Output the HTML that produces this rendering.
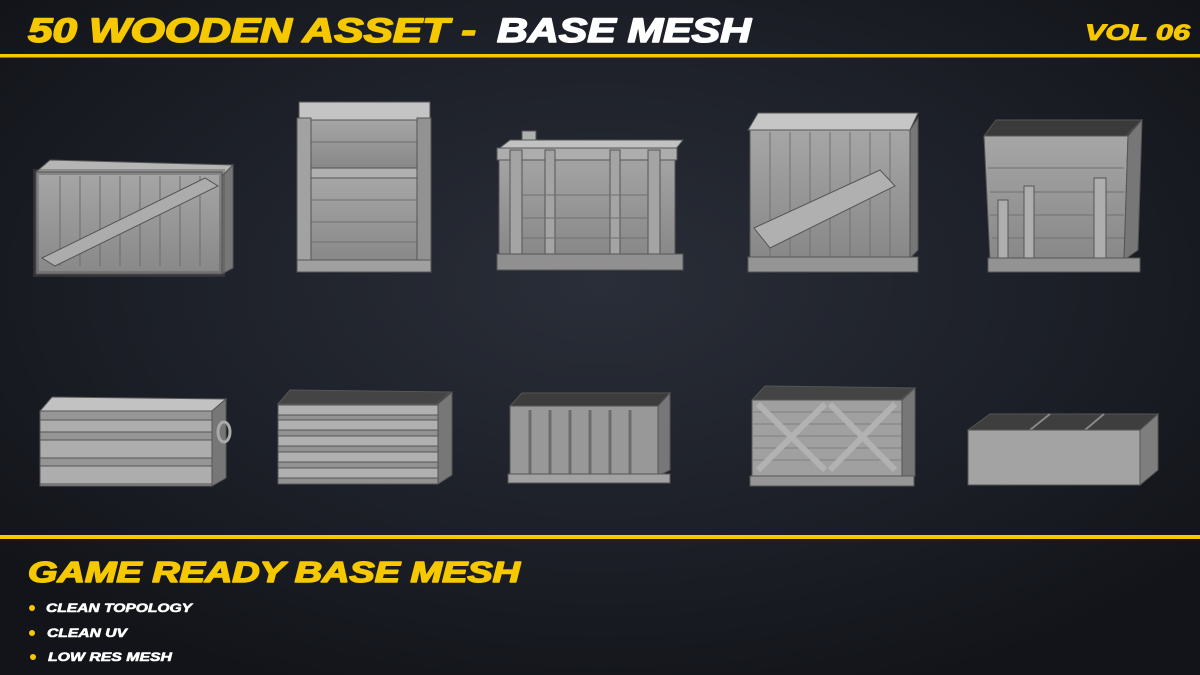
<!DOCTYPE html>
<html><head><meta charset="utf-8"><style>
html,body{margin:0;padding:0;width:1200px;height:675px;overflow:hidden;background:#181b22}
svg{display:block}
</style></head><body>
<svg width="1200" height="675" viewBox="0 0 1200 675" xmlns="http://www.w3.org/2000/svg">
<defs>
<radialGradient id="bg" cx="0.5" cy="0.42" r="0.65">
<stop offset="0" stop-color="#2a2e38"/><stop offset="0.6" stop-color="#1c1f27"/><stop offset="1" stop-color="#121419"/>
</radialGradient>
<linearGradient id="fr" x1="0" y1="0" x2="0" y2="1"><stop offset="0" stop-color="#a6a6a6"/><stop offset="1" stop-color="#888"/></linearGradient>
</defs>
<rect width="1200" height="675" fill="url(#bg)"/>
<rect x="0" y="54" width="1200" height="3.5" fill="#f5c800"/>
<rect x="0" y="535" width="1200" height="4" fill="#f5c800"/>
<g font-family="Liberation Sans, sans-serif" font-weight="bold" font-style="italic" stroke-linejoin="round">
<text x="28" y="42" font-size="34" fill="#f5c800" stroke="#f5c800" stroke-width="1.6" textLength="448" lengthAdjust="spacingAndGlyphs">50 WOODEN ASSET -</text>
<text x="497" y="42" font-size="34" fill="#ffffff" stroke="#ffffff" stroke-width="1.6" textLength="254" lengthAdjust="spacingAndGlyphs">BASE MESH</text>
<text x="1085" y="40" font-size="22" fill="#f5c800" stroke="#f5c800" stroke-width="1" textLength="105" lengthAdjust="spacingAndGlyphs">VOL 06</text>
<text x="28" y="582" font-size="29" fill="#f5c800" stroke="#f5c800" stroke-width="1.5" textLength="492" lengthAdjust="spacingAndGlyphs">GAME READY BASE MESH</text>
<text x="46" y="612" font-size="12" fill="#fff" stroke="#fff" stroke-width="0.6" textLength="146" lengthAdjust="spacingAndGlyphs">CLEAN TOPOLOGY</text>
<text x="47" y="637" font-size="12" fill="#fff" stroke="#fff" stroke-width="0.6" textLength="80" lengthAdjust="spacingAndGlyphs">CLEAN UV</text>
<text x="48" y="661" font-size="12" fill="#fff" stroke="#fff" stroke-width="0.6" textLength="124" lengthAdjust="spacingAndGlyphs">LOW RES MESH</text>
</g>
<circle cx="32" cy="608" r="3" fill="#f5c800"/>
<circle cx="32" cy="633" r="3" fill="#f5c800"/>
<circle cx="33" cy="657" r="3" fill="#f5c800"/>

<g stroke="#555" stroke-width="1">
<!-- crate 1 -->
<polygon points="36,172 50,160 233,165 222,176" fill="#b5b5b5"/>
<rect x="36" y="172" width="186" height="102" fill="url(#fr)"/>
<polygon points="222,176 233,165 233,268 222,274" fill="#777"/>
<g fill="none" stroke="#6c6c6c"><path d="M60,176V266M80,176V266M100,176V266M120,176V266M140,176V266M160,176V266M180,176V266M200,176V266"/></g>
<rect x="36" y="172" width="186" height="102" fill="none" stroke="#555" stroke-width="6" opacity="0.4"/>
<polygon points="42,258 205,178 218,186 55,266" fill="#acacac"/>
<!-- crate 2 -->
<rect x="299" y="102" width="131" height="18" fill="#c4c4c4"/>
<rect x="299" y="120" width="130" height="48" fill="url(#fr)"/>
<rect x="299" y="168" width="130" height="10" fill="#b0b0b0"/>
<rect x="299" y="178" width="130" height="84" fill="url(#fr)"/>
<path d="M305,200H420M305,222H420M305,242H420M305,142H420" stroke="#707070"/>
<rect x="297" y="118" width="14" height="148" fill="#a2a2a2"/>
<rect x="417" y="118" width="14" height="148" fill="#929292"/>
<rect x="297" y="260" width="134" height="12" fill="#a0a0a0"/>
<!-- crate 3 -->
<rect x="522" y="131" width="14" height="10" fill="#b0b0b0"/>
<polygon points="497,150 510,140 683,140 675,150" fill="#c2c2c2"/>
<rect x="499" y="150" width="176" height="106" fill="url(#fr)"/>
<rect x="497" y="148" width="180" height="12" fill="#adadad"/>
<rect x="510" y="150" width="12" height="106" fill="#a4a4a4"/><rect x="545" y="150" width="10" height="106" fill="#a4a4a4"/><rect x="610" y="150" width="10" height="106" fill="#a4a4a4"/><rect x="648" y="150" width="12" height="106" fill="#a4a4a4"/>
<path d="M522,195H648M522,218H648M522,238H648" stroke="#707070"/>
<rect x="497" y="254" width="186" height="16" fill="#909090"/>
<!-- crate 4 -->
<polygon points="748,130 758,113 918,113 910,130" fill="#c6c6c6"/>
<rect x="750" y="130" width="160" height="128" fill="url(#fr)"/>
<polygon points="910,130 918,118 918,250 910,258" fill="#777"/>
<path d="M770,132V256M790,132V256M810,132V256M830,132V256M850,132V256M870,132V256M890,132V256" stroke="#727272"/>
<polygon points="754,228 880,170 895,186 770,248" fill="#b0b0b0"/>
<rect x="748" y="257" width="170" height="15" fill="#959595"/>
<!-- crate 5 -->
<polygon points="984,136 996,120 1142,120 1126,136" fill="#3a3a3a"/>
<polygon points="984,136 1128,136 1124,260 990,260" fill="url(#fr)"/>
<polygon points="1128,136 1142,120 1138,250 1124,260" fill="#777"/>
<path d="M988,168H1124M990,192H1124M990,215H1124M992,238H1124" stroke="#707070"/>
<rect x="998" y="200" width="10" height="60" fill="#aeaeae"/><rect x="1024" y="186" width="10" height="74" fill="#aeaeae"/><rect x="1094" y="178" width="12" height="82" fill="#aeaeae"/>
<rect x="988" y="258" width="152" height="14" fill="#939393"/>
<!-- crate 6 -->
<polygon points="40,411 52,397 226,399 212,411" fill="#c2c2c2"/>
<rect x="40" y="411" width="172" height="75" fill="#969696"/>
<rect x="40" y="420" width="172" height="12" fill="#adadad"/><rect x="40" y="440" width="172" height="18" fill="#adadad"/><rect x="40" y="466" width="172" height="18" fill="#adadad"/>
<polygon points="212,411 226,399 226,478 212,486" fill="#777"/>
<ellipse cx="224" cy="432" rx="6" ry="10" fill="none" stroke="#aaa" stroke-width="3"/>
<!-- crate 7 -->
<polygon points="278,404 290,390 450,392 436,404" fill="#444"/>
<rect x="278" y="404" width="160" height="80" fill="#929292"/>
<rect x="278" y="405" width="160" height="10" fill="#b0b0b0"/><rect x="278" y="420" width="160" height="10" fill="#b0b0b0"/><rect x="278" y="436" width="160" height="10" fill="#b0b0b0"/><rect x="278" y="452" width="160" height="10" fill="#b0b0b0"/><rect x="278" y="468" width="160" height="10" fill="#b0b0b0"/>
<polygon points="438,404 452,392 452,475 438,484" fill="#777"/>
<!-- crate 8 -->
<polygon points="510,406 522,393 670,393 658,406" fill="#3c3c3c"/>
<rect x="510" y="406" width="148" height="70" fill="#989898"/>
<path d="M530,410V474M550,410V474M570,410V474M590,410V474M610,410V474M630,410V474" stroke="#6c6c6c" stroke-width="3"/>
<polygon points="658,406 670,393 670,470 658,476" fill="#777"/>
<rect x="508" y="474" width="162" height="9" fill="#a2a2a2"/>
<!-- crate 9 -->
<polygon points="752,400 765,386 915,388 900,400" fill="#444"/>
<rect x="752" y="400" width="150" height="76" fill="#a0a0a0"/>
<path d="M752,412H902M752,424H902M752,436H902M752,448H902M752,460H902" stroke="#808080"/>
<path d="M758,404L825,470M825,404L758,470M830,404L895,470M895,404L830,470" stroke="#b2b2b2" stroke-width="6"/>
<polygon points="902,400 915,388 915,476 902,486" fill="#777"/>
<rect x="750" y="476" width="164" height="10" fill="#969696"/>
<!-- crate 10 -->
<polygon points="968,430 990,414 1158,414 1140,430" fill="#3e3e3e"/>
<path d="M1030,430L1050,414M1085,430L1104,414" stroke="#888" stroke-width="2"/>
<rect x="968" y="430" width="172" height="55" fill="#a3a3a3"/>
<polygon points="1140,430 1158,414 1158,470 1140,485" fill="#7e7e7e"/>
</g>
</svg>
</body></html>
